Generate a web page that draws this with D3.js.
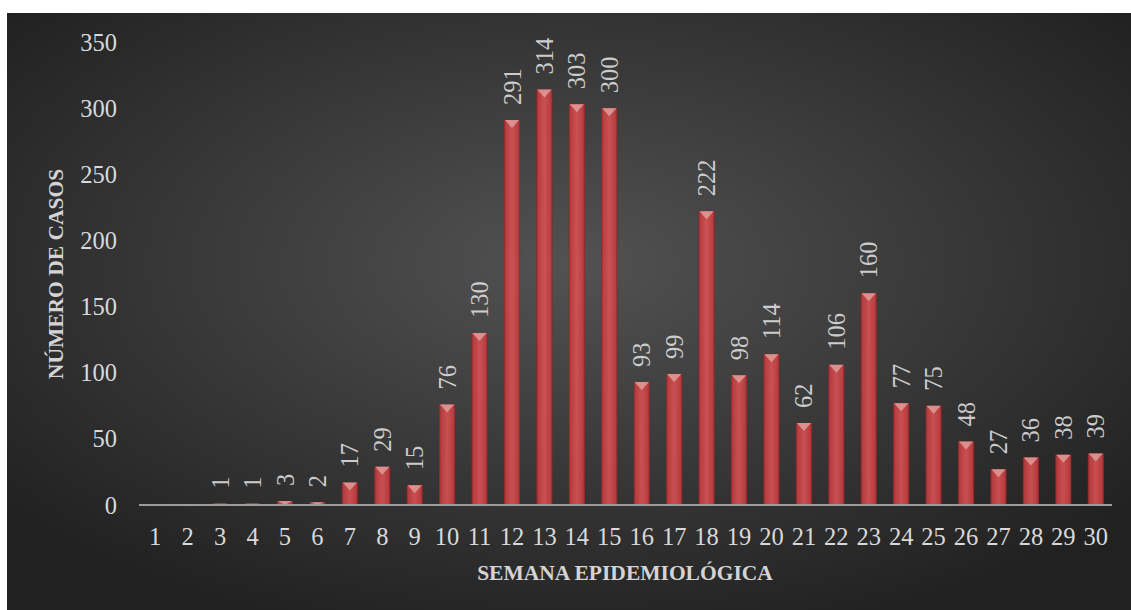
<!DOCTYPE html>
<html>
<head>
<meta charset="utf-8">
<script src="https://cdn.jsdelivr.net/npm/d3@7"></script>
<style>
  body { margin: 0; background: #fff; }
  svg { display: block; }
  .tick-label { font-family: 'Liberation Serif', serif; font-size: 24.5px; fill: #d9d9d9; }
  .axis-title { font-family: 'Liberation Serif', serif; font-size: 21.5px; font-weight: bold; fill: #d4d4d4; }
</style>
</head>
<body>
<div id="chart"></div>
<script>
const WIDTH = 1131
const HEIGHT = 610

const weeks = d3.range(1, 31).map(String)
const cases = [0, 0, 1, 1, 3, 2, 17, 29, 15, 76, 130, 291, 314, 303, 300,
  93, 99, 222, 98, 114, 62, 106, 160, 77, 75, 48, 27, 36, 38, 39]
const yTicks = [0, 50, 100, 150, 200, 250, 300, 350]

const margin = { top: 42, right: 19, bottom: 105, left: 139 }

const svg = d3.select('#chart')
  .append('svg')
  .attr('width', WIDTH)
  .attr('height', HEIGHT)

const defs = svg.append('defs')
const bg = defs.append('radialGradient')
  .attr('id', 'bg')
  .attr('cx', '50%').attr('cy', '42%').attr('r', '65%')
bg.append('stop').attr('offset', '0%').attr('stop-color', '#525252')
bg.append('stop').attr('offset', '100%').attr('stop-color', '#212121')

const barGrad = defs.append('linearGradient')
  .attr('id', 'bar')
  .attr('x1', '0%').attr('x2', '100%').attr('y1', '0%').attr('y2', '0%')
barGrad.append('stop').attr('offset', '0%').attr('stop-color', '#8a2426')
barGrad.append('stop').attr('offset', '12%').attr('stop-color', '#c23e40')
barGrad.append('stop').attr('offset', '50%').attr('stop-color', '#d65354')
barGrad.append('stop').attr('offset', '88%').attr('stop-color', '#c23e40')
barGrad.append('stop').attr('offset', '100%').attr('stop-color', '#8a2426')

svg.append('rect')
  .attr('x', 7).attr('y', 13)
  .attr('width', WIDTH - 7).attr('height', HEIGHT - 13)
  .attr('fill', 'url(#bg)')

const x = d3.scaleBand()
  .domain(weeks)
  .range([margin.left, WIDTH - margin.right])
  .paddingInner(0.5)
  .paddingOuter(0.25)

const y = d3.scaleLinear()
  .domain([0, 350])
  .range([HEIGHT - margin.bottom, margin.top])

// y tick labels, no axis line in the original
svg.append('g')
  .selectAll('text')
  .data(yTicks)
  .enter()
  .append('text')
  .attr('class', 'tick-label')
  .attr('x', 117)
  .attr('y', d => y(d))
  .attr('dy', '0.35em')
  .attr('text-anchor', 'end')
  .text(d => d)

const bars = svg.append('g')
  .selectAll('g')
  .data(cases.map((v, i) => ({ week: weeks[i], value: v })))
  .enter()
  .append('g')
  .attr('opacity', 0.92)

bars.append('rect')
  .attr('x', d => x(d.week))
  .attr('y', d => y(d.value))
  .attr('width', x.bandwidth())
  .attr('height', d => y(0) - y(d.value))
  .attr('fill', 'url(#bar)')

// bevelled top
bars.filter(d => d.value > 0)
  .append('path')
  .attr('d', d => {
    const x0 = x(d.week)
    const w = x.bandwidth()
    const top = y(d.value)
    const h = Math.min(8, y(0) - top)
    return `M${x0 + 1},${top}L${x0 + w - 1},${top}L${x0 + w / 2},${top + h}Z`
  })
  .attr('fill', '#eea4a2')
  .attr('opacity', 0.85)

// axis line
svg.append('line')
  .attr('x1', margin.left)
  .attr('x2', WIDTH - margin.right)
  .attr('y1', y(0))
  .attr('y2', y(0))
  .attr('stroke', '#9c9c9c')
  .attr('stroke-width', 2)

// value labels
bars.filter(d => d.value > 0)
  .append('text')
  .attr('class', 'tick-label')
  .attr('transform', d => `translate(${x(d.week) + x.bandwidth() / 2}, ${y(d.value) - 15}) rotate(-90)`)
  .attr('dy', '0.35em')
  .attr('text-anchor', 'start')
  .text(d => d.value)

// x tick labels
svg.append('g')
  .selectAll('text')
  .data(weeks)
  .enter()
  .append('text')
  .attr('class', 'tick-label')
  .attr('x', d => x(d) + x.bandwidth() / 2)
  .attr('y', 536)
  .attr('dy', '0.35em')
  .attr('text-anchor', 'middle')
  .text(d => d)

svg.append('text')
  .attr('class', 'axis-title')
  .attr('x', 625)
  .attr('y', 572)
  .attr('dy', '0.35em')
  .attr('text-anchor', 'middle')
  .text('SEMANA EPIDEMIOLÓGICA')

svg.append('text')
  .attr('class', 'axis-title')
  .attr('transform', 'translate(55, 274) rotate(-90)')
  .attr('dy', '0.35em')
  .attr('text-anchor', 'middle')
  .text('NÚMERO DE CASOS')
</script>
</body>
</html>
